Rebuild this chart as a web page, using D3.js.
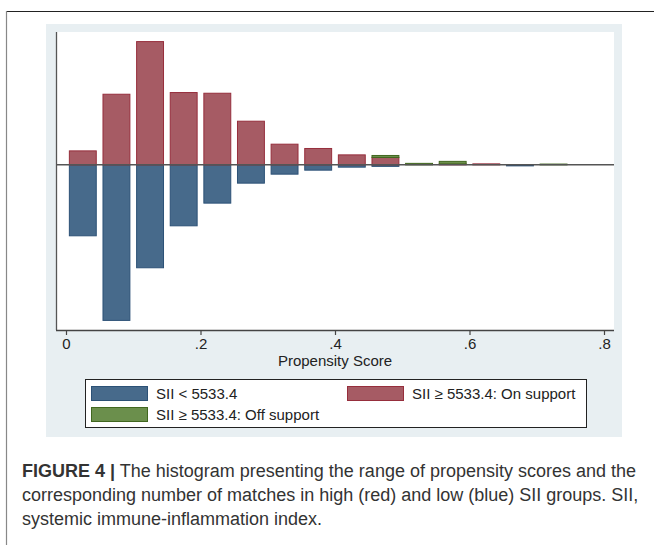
<!DOCTYPE html>
<html>
<head>
<meta charset="utf-8">
<script src="https://cdn.jsdelivr.net/npm/d3@7"></script>
<style>
  body { margin: 0; background: #fff; }
  text { font-family: "Liberation Sans", Arial, sans-serif; }
</style>
</head>
<body>
<div class="chart"></div>
<script>
var w = 654;
var h = 545;

// histogram bins of propensity score, width .05
var binStart = [0, .05, .1, .15, .2, .25, .3, .35, .4, .45, .5, .55, .6, .65, .7];
// heights (arbitrary units, y axis unlabelled)
var onSupport  = [14, 70.7, 123.4, 72.4, 71.7, 43.7, 20.7, 16.4, 10, 7.4, 0, 1, 1, 0, 0];
var offSupport = [0, 0, 0, 0, 0, 0, 0, 0, 0, 2, 1.5, 2.5, 0, 0, 0.8];
var lowSII     = [71, 155.7, 103, 61, 38.3, 18.3, 9.3, 5.3, 2.3, 1.5, 0, 0, 0, 1, 0];

var xTicks = [0, .2, .4, .6, .8];
var xTickLabels = ["0", ".2", ".4", ".6", ".8"];
var legendLabels = ["SII < 5533.4", "SII \u2265 5533.4: On support", "SII \u2265 5533.4: Off support"];
var binWidth = .05;

var colBlue = "#476a8b", strokeBlue = "#2c5176";
var colRed = "#a65b64", strokeRed = "#962e3c";
var colGreen = "#6b8f4c", strokeGreen = "#41671f";

var plotLeft = 57, plotRight = 614, plotTop = 32, plotBottom = 330;

var svg = d3.select(".chart").append("svg")
            .attr("width", w)
            .attr("height", h);

// page frame (top and left rules)
svg.append("line").attr("x1", 6.5).attr("x2", w).attr("y1", 11.5).attr("y2", 11.5)
   .style("stroke", "#222").style("stroke-width", 1.2);
svg.append("line").attr("x1", 6.5).attr("x2", 6.5).attr("y1", 11).attr("y2", h)
   .style("stroke", "#888").style("stroke-width", 1.2);

// graph region background
svg.append("rect").attr("x", 46).attr("y", 24).attr("width", 576).attr("height", 413)
   .style("fill", "#e8eff2");
svg.append("rect").attr("x", plotLeft).attr("y", plotTop)
   .attr("width", plotRight - plotLeft).attr("height", plotBottom - plotTop)
   .style("fill", "#fff");

var xScale = d3.scaleLinear().domain([0, .8]).range([66, 604]);
var yScale = d3.scaleLinear().domain([-165.3, 133]).range([plotBottom, plotTop]);

// bars
var barW = binWidth * 0.8;
var bars = svg.append("g");
binStart.forEach(function(b, i) {
  var x0 = xScale(b + binWidth * 0.1);
  var bw = xScale(b + binWidth * 0.1 + barW) - x0;
  if (lowSII[i] > 0) {
    bars.append("rect").attr("x", x0).attr("width", bw)
        .attr("y", yScale(0)).attr("height", yScale(-lowSII[i]) - yScale(0))
        .style("fill", colBlue).style("stroke", strokeBlue).style("stroke-width", 1);
  }
  if (onSupport[i] > 0) {
    bars.append("rect").attr("x", x0).attr("width", bw)
        .attr("y", yScale(onSupport[i])).attr("height", yScale(0) - yScale(onSupport[i]))
        .style("fill", colRed).style("stroke", strokeRed).style("stroke-width", 1);
  }
  if (offSupport[i] > 0) {
    var top = onSupport[i] + offSupport[i];
    bars.append("rect").attr("x", x0).attr("width", bw)
        .attr("y", yScale(top)).attr("height", yScale(onSupport[i]) - yScale(top))
        .style("fill", colGreen).style("stroke", strokeGreen).style("stroke-width", 1);
  }
});

// zero line
svg.append("line").attr("x1", plotLeft).attr("x2", plotRight)
   .attr("y1", yScale(0)).attr("y2", yScale(0))
   .style("stroke", "#555").style("stroke-width", 1.5);

// y axis (no labels)
svg.append("line").attr("x1", plotLeft - 0.5).attr("x2", plotLeft - 0.5)
   .attr("y1", plotTop).attr("y2", plotBottom)
   .style("stroke", "#555").style("stroke-width", 1.3);

// x axis
var xAxis = d3.axisBottom()
              .scale(xScale)
              .tickValues(xTicks)
              .tickSize(5)
              .tickFormat(function(d, i) { return xTickLabels[i]; });

var gx = svg.append("g")
   .attr("class", "xAxis")
   .attr("transform", "translate(0," + plotBottom + ")")
   .call(xAxis);
gx.select(".domain").attr("d", "M" + (plotLeft - 1) + ",0.5H" + plotRight)
  .style("stroke", "#444").style("stroke-width", 1.3);
gx.selectAll(".tick line").style("stroke", "#444").style("stroke-width", 1.2);
gx.selectAll(".tick text").attr("y", 8).style("font-size", "15px")
  .style("font-family", "Liberation Sans, Arial, sans-serif").style("fill", "#222");

svg.append("text")
   .attr("text-anchor", "middle")
   .attr("x", 335)
   .attr("y", 366)
   .style("font-size", "15px")
   .style("fill", "#222")
   .text("Propensity Score");

// legend
svg.append("rect").attr("x", 85.5).attr("y", 379.5).attr("width", 501).attr("height", 48)
   .style("fill", "#fff").style("stroke", "#222").style("stroke-width", 1);

var legendItems = [
  {x: 91, y: 386, fill: colBlue, stroke: strokeBlue, label: legendLabels[0]},
  {x: 347, y: 386, fill: colRed, stroke: strokeRed, label: legendLabels[1]},
  {x: 91, y: 407, fill: colGreen, stroke: strokeGreen, label: legendLabels[2]}
];
var lg = svg.append("g").selectAll("g").data(legendItems).enter().append("g");
lg.append("rect").attr("x", function(d) { return d.x + 0.5; })
  .attr("y", function(d) { return d.y + 0.5; })
  .attr("width", 56).attr("height", 14)
  .style("fill", function(d) { return d.fill; })
  .style("stroke", function(d) { return d.stroke; });
lg.append("text").attr("x", function(d) { return d.x + 65; })
  .attr("y", function(d) { return d.y + 13; })
  .style("font-size", "15px").style("fill", "#222")
  .text(function(d) { return d.label; });

// caption
var caption = svg.append("g").style("font-size", "18px").style("fill", "#333");
var l1 = caption.append("text").attr("x", 22).attr("y", 477);
l1.append("tspan").style("font-weight", "bold").text("FIGURE 4 |");
l1.append("tspan").text(" The histogram presenting the range of propensity scores and the");
caption.append("text").attr("x", 22).attr("y", 501)
  .text("corresponding number of matches in high (red) and low (blue) SII groups. SII,");
caption.append("text").attr("x", 22).attr("y", 525)
  .text("systemic immune-inflammation index.");
</script>
</body>
</html>
